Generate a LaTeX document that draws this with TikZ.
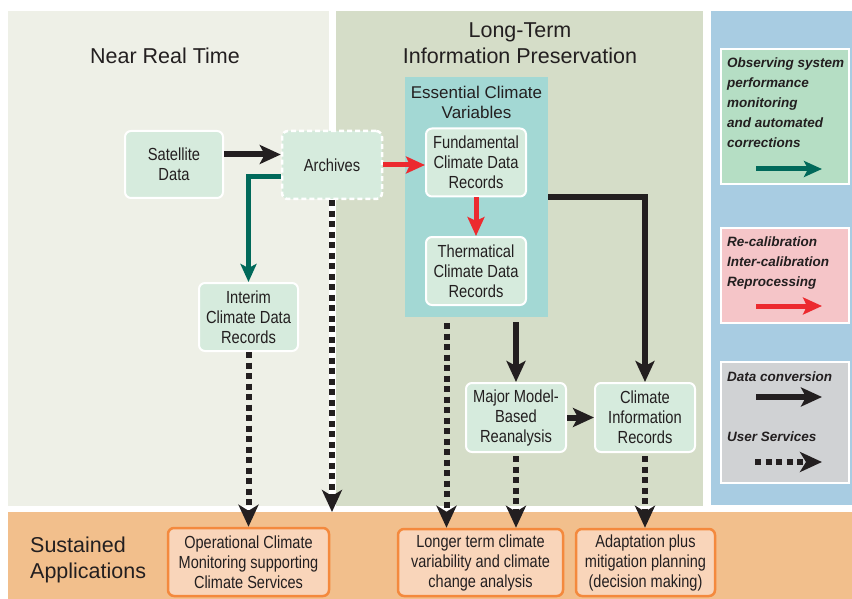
\documentclass[tikz,border=0pt]{standalone}
\usepackage{fontspec}
\setmainfont{Liberation Sans}
\newfontfamily\narrowsf{Liberation Sans}[FakeStretch=0.84]
\newfontfamily\narrowersf{Liberation Sans}[FakeStretch=0.83]
\usetikzlibrary{calc, arrows.meta, positioning}
\usepackage{xcolor}

\definecolor{nrtbg}{HTML}{EEF0E7}
\definecolor{ltpbg}{HTML}{D5DDC8}
\definecolor{legbg}{HTML}{A8CCE2}
\definecolor{bandbg}{HTML}{F2BF8C}
\definecolor{ecvbg}{HTML}{A3D8D4}
\definecolor{recfill}{HTML}{D6EBDD}
\definecolor{appfill}{HTML}{F9D5BA}
\definecolor{appline}{HTML}{F4893D}
\definecolor{leggreen}{HTML}{B5DEC4}
\definecolor{legpink}{HTML}{F5C5C8}
\definecolor{leggray}{HTML}{D0D2D4}
\definecolor{convblack}{HTML}{231F20}
\definecolor{recalred}{HTML}{EC2A2F}
\definecolor{monitgreen}{HTML}{00695A}

\begin{document}
\begin{tikzpicture}[x=1pt, y=-1pt, >=Stealth, line join=miter]
				\tikzstyle{panel} = [draw=none, inner sep=0pt, outer sep=0pt]
				\tikzstyle{title} = [draw=none, align=center, font=\fontsize{21.5}{26}\selectfont, text=convblack]
				\tikzstyle{rec} = [rectangle, rounded corners=6pt, draw=white, line width=2pt, fill=recfill, align=center, inner sep=2pt, text=convblack, font=\narrowsf\fontsize{17.5}{20}\selectfont]
				\tikzstyle{archbox} = [rec, dash pattern=on 5pt off 3pt, line width=2.5pt]
				\tikzstyle{app} = [rec, draw=appline, line width=2.5pt, fill=appfill, font=\narrowersf\fontsize{17.5}{20}\selectfont]
				\tikzstyle{legbox} = [rectangle, draw=white, line width=1.5pt, inner sep=0pt]
				\tikzstyle{legtext} = [draw=none, anchor=west, align=left, inner sep=0pt, text=convblack, font=\bfseries\itshape\fontsize{13.5}{20}\selectfont]
				\tikzstyle{conv} = [draw=convblack, line width=6pt, -{Stealth[length=21pt, width=19pt, inset=5pt]}]
				\tikzstyle{recal} = [draw=recalred, line width=5pt, -{Stealth[length=19pt, width=17pt, inset=4pt]}]
				\tikzstyle{monit} = [draw=monitgreen, line width=5pt, -{Stealth[length=18pt, width=16pt, inset=4pt]}]
				\tikzstyle{serv} = [draw=convblack, line width=6pt, dash pattern=on 6pt off 4.5pt, -{Stealth[length=22pt, width=20pt, inset=6pt]}]

				\useasboundingbox[fill=white] (0,0) rectangle (852,599);

				% background panels
				\node[panel, fill=nrtbg, minimum width=321, minimum height=495]	at (168.5,258.5)	(nrt)	{};
				\node[panel, fill=ltpbg, minimum width=367, minimum height=495]	at (519.5,258.5)	(ltp)	{};
				\node[panel, fill=legbg, minimum width=141, minimum height=494]	at (781.5,258)		(leg)	{};
				\node[panel, fill=bandbg, minimum width=844, minimum height=87]	at (430,555.5)		(band)	{};
				\node[panel, fill=ecvbg, minimum width=143, minimum height=240]	at (476.5,197)		(ecv)	{};

				% titles
				\node[title]			at (165,56)		(nrtT)	{Near Real Time};
				\node[title]			at (520,43)		(ltpT)	{Long-Term\\Information Preservation};
				\node[title, anchor=west, align=left, inner sep=0pt]	at (30,560)	(appT)	{Sustained\\Applications};
				\node[title, font=\fontsize{17}{20}\selectfont]	at (476.5,102)	(ecvT)	{Essential Climate\\Variables};

				% records
				\node[rec, minimum width=98, minimum height=67]		at (174,164.5)	(sat)	{Satellite\\Data};
				\node[archbox, minimum width=100, minimum height=68]	at (332,165)	(arch)	{Archives};
				\node[rec, minimum width=100, minimum height=68]	at (476,162.5)	(fcdr)	{Fundamental\\Climate Data\\Records};
				\node[rec, minimum width=100, minimum height=68]	at (476,271)	(tcdr)	{Thermatical\\Climate Data\\Records};
				\node[rec, minimum width=99, minimum height=68]		at (248.5,317)	(icdr)	{Interim\\Climate Data\\Records};
				\node[rec, minimum width=100, minimum height=69]	at (516,417.5)	(mmr)	{Major Model-\\Based\\Reanalysis};
				\node[rec, minimum width=100, minimum height=69]	at (645,417.5)	(cir)	{Climate\\Information\\Records};

				% applications
				\node[app, minimum width=161, minimum height=68]	at (248.5,562)	(ops)	{Operational Climate\\Monitoring supporting\\Climate Services};
				\node[app, minimum width=165, minimum height=67]	at (480.5,562.5)	(lta)	{Longer term climate\\variability and climate\\change analysis};
				\node[app, minimum width=139, minimum height=67]	at (645.5,562.5)	(adp)	{Adaptation plus\\mitigation planning\\(decision making)};

				% legend
				\node[legbox, fill=leggreen, minimum width=128, minimum height=135]	at (785,116.5)	(lgGreen)	{};
				\node[legbox, fill=legpink, minimum width=128, minimum height=95]	at (785,275.5)	(lgPink)	{};
				\node[legbox, fill=leggray, minimum width=128, minimum height=121]	at (785,422.5)	(lgGray)	{};
				\node[legtext]	at (727,103)	(lgGreenT)	{Observing system\\performance\\monitoring\\and automated\\corrections};
				\node[legtext]	at (727,263)	(lgPinkT)	{Re-calibration\\Inter-calibration\\Reprocessing};
				\node[legtext]	at (727,377)	(lgConvT)	{Data conversion};
				\node[legtext]	at (727,437)	(lgServT)	{User Services};
				\coordinate (lgA1) at (756,169);	\coordinate (lgA2) at (822,169);
				\coordinate (lgB1) at (756,306);	\coordinate (lgB2) at (822,306);
				\coordinate (lgC1) at (756,397);	\coordinate (lgC2) at (822,397);
				\coordinate (lgD1) at (755,462);	\coordinate (lgD2) at (822,462);
				\draw[monit] (lgA1) -- (lgA2);
				\draw[recal] (lgB1) -- (lgB2);
				\draw[conv] (lgC1) -- (lgC2);
				\draw[serv] (lgD1) -- (lgD2);

				% connectors
				\coordinate (ecvDot) at ($(ecv.south)+(-30,6)$);
				\coordinate (ecvSol) at ($(ecv.south -| mmr.north)+(0,5)$);
				\coordinate (mmrDot) at ($(mmr.south)+(0,3)$);
				\coordinate (cirDot) at ($(cir.south)+(0,3)$);

				\draw[conv]	([yshift=10pt]sat.east) -- ([yshift=10pt]sat.east -| arch.west);
				\draw[recal]	(arch.east) -- (arch.east -| fcdr.west);
				\draw[recal]	(fcdr.south) -- (tcdr.north);
				\draw[monit]	([yshift=-12pt]arch.west) -| (icdr.north);
				\draw[conv]	(ecv.east) -| (cir.north);
				\draw[conv]	(ecvSol) -- (mmr.north);
				\draw[conv]	(mmr.east) -- (cir.west);

				\draw[serv]	(icdr.south) -- (ops.north);
				\draw[serv]	(arch.south) -- (arch.south |- band.north);
				\draw[serv]	(ecvDot) -- (ecvDot |- lta.north);
				\draw[serv]	(mmrDot) -- (mmrDot |- lta.north);
				\draw[serv]	(cirDot) -- (cirDot |- adp.north);
			\end{tikzpicture}
\end{document}
